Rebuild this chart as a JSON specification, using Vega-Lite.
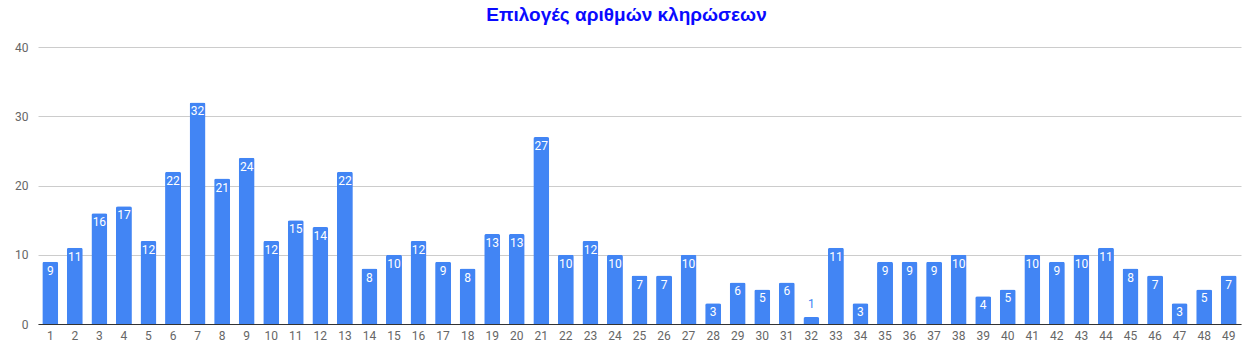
{
  "$schema": "https://vega.github.io/schema/vega-lite/v6.json",
  "autosize": "none",
  "width": 1203,
  "height": 277,
  "padding": {"left": 38, "top": 47, "right": 13, "bottom": 29},
  "background": "white",
  "title": {
    "text": "Επιλογές αριθμών κληρώσεων",
    "font": "Liberation Sans",
    "fontSize": 19,
    "fontWeight": "bold",
    "color": "#0a0aff",
    "anchor": "middle",
    "dx": -13,
    "offset": 16
  },
  "data": {
    "values": [
      {"n": 1, "v": 9}, {"n": 2, "v": 11}, {"n": 3, "v": 16}, {"n": 4, "v": 17}, {"n": 5, "v": 12},
      {"n": 6, "v": 22}, {"n": 7, "v": 32}, {"n": 8, "v": 21}, {"n": 9, "v": 24}, {"n": 10, "v": 12},
      {"n": 11, "v": 15}, {"n": 12, "v": 14}, {"n": 13, "v": 22}, {"n": 14, "v": 8}, {"n": 15, "v": 10},
      {"n": 16, "v": 12}, {"n": 17, "v": 9}, {"n": 18, "v": 8}, {"n": 19, "v": 13}, {"n": 20, "v": 13},
      {"n": 21, "v": 27}, {"n": 22, "v": 10}, {"n": 23, "v": 12}, {"n": 24, "v": 10}, {"n": 25, "v": 7},
      {"n": 26, "v": 7}, {"n": 27, "v": 10}, {"n": 28, "v": 3}, {"n": 29, "v": 6}, {"n": 30, "v": 5},
      {"n": 31, "v": 6}, {"n": 32, "v": 1}, {"n": 33, "v": 11}, {"n": 34, "v": 3}, {"n": 35, "v": 9},
      {"n": 36, "v": 9}, {"n": 37, "v": 9}, {"n": 38, "v": 10}, {"n": 39, "v": 4}, {"n": 40, "v": 5},
      {"n": 41, "v": 10}, {"n": 42, "v": 9}, {"n": 43, "v": 10}, {"n": 44, "v": 11}, {"n": 45, "v": 8},
      {"n": 46, "v": 7}, {"n": 47, "v": 3}, {"n": 48, "v": 5}, {"n": 49, "v": 7}
    ]
  },
  "encoding": {
    "x": {
      "field": "n",
      "type": "ordinal",
      "sort": null,
      "scale": {"paddingInner": 0.35, "paddingOuter": 0.175},
      "axis": {
        "title": null,
        "labelAngle": 0,
        "labelFont": "Roboto",
        "labelFontSize": 12,
        "labelColor": "#666666",
        "labelPadding": 6,
        "ticks": false,
        "domainColor": "#333333",
        "domainWidth": 1,
        "grid": false
      }
    },
    "y": {
      "field": "v",
      "type": "quantitative",
      "scale": {"domain": [0, 40], "nice": false},
      "axis": {
        "title": null,
        "values": [0, 10, 20, 30, 40],
        "labelFont": "Roboto",
        "labelFontSize": 12,
        "labelColor": "#666666",
        "labelPadding": 10,
        "ticks": false,
        "domain": false,
        "gridColor": "#cccccc",
        "gridWidth": 1
      }
    }
  },
  "layer": [
    {
      "mark": {"type": "bar", "color": "#4285f4", "cornerRadiusTopLeft": 2, "cornerRadiusTopRight": 2}
    },
    {
      "transform": [{"filter": "datum.v >= 2"}],
      "mark": {"type": "text", "color": "white", "font": "Roboto", "fontSize": 12, "baseline": "top", "dy": 4},
      "encoding": {"text": {"field": "v", "type": "quantitative"}}
    },
    {
      "transform": [{"filter": "datum.v < 2"}],
      "mark": {"type": "text", "color": "#4285f4", "font": "Roboto", "fontSize": 12, "baseline": "bottom", "dy": -6},
      "encoding": {"text": {"field": "v", "type": "quantitative"}}
    }
  ],
  "config": {"view": {"stroke": null}}
}
